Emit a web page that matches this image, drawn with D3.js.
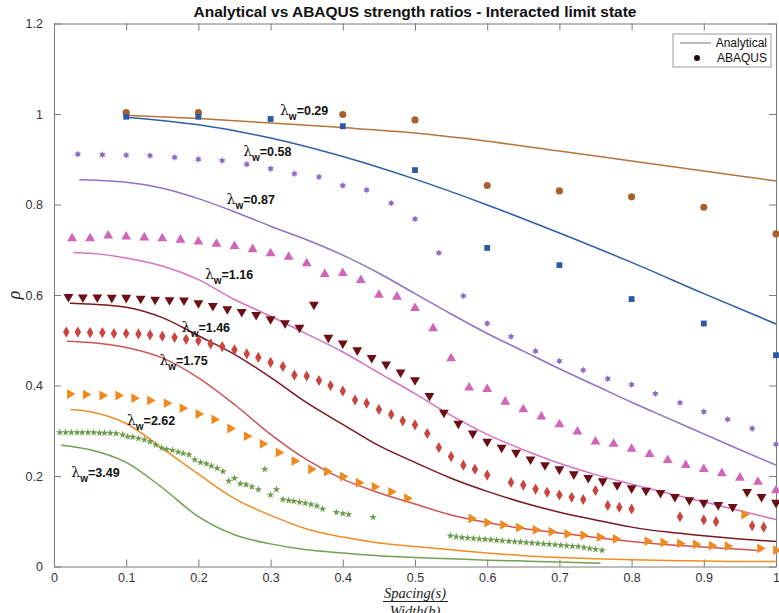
<!DOCTYPE html>
<html lang="en">
<head>
<meta charset="UTF-8">
<title>Analytical vs ABAQUS strength ratios</title>
<script src="https://d3js.org/d3.v7.min.js"></script>
<style>
  body { margin: 0; background: #fff; }
  svg { display: block; }
  .tick text { font: 12.5px "Liberation Sans", Arial, sans-serif; fill: #333; }
  .lbl { font-family: "Liberation Sans", Arial, sans-serif; fill: #111; }
</style>
</head>
<body>
<svg width="779" height="613"></svg>
<script>
// ---- data ----
const lambdas = ["0.29", "0.58", "0.87", "1.16", "1.46", "1.75", "2.62", "3.49"];
const colors = ["#A9612C", "#2B5BA6", "#8A6CC2", "#D065BA", "#6B0E16", "#C9463F", "#F08A1E", "#6C9B4C"];
const lineColors = ["#B5743E", "#2F5FA8", "#8D73C4", "#D872C2", "#7A1820", "#D05550", "#F28C24", "#71A052"];

// analytical curves
const anX029 = [0.1, 0.2, 0.3, 0.4, 0.5, 0.6, 0.7, 0.8, 0.9, 1.0];
const anY029 = [0.997, 0.990, 0.980, 0.970, 0.958, 0.940, 0.918, 0.896, 0.874, 0.852];
const anX058 = [0.1, 0.2, 0.3, 0.4, 0.5, 0.6, 0.7, 0.8, 0.9, 1.0];
const anY058 = [0.993, 0.976, 0.947, 0.906, 0.856, 0.799, 0.737, 0.672, 0.603, 0.536];
const anX087 = [0.035, 0.05, 0.1, 0.15, 0.2, 0.25, 0.3, 0.35, 0.4, 0.45, 0.5, 0.55, 0.6, 0.65, 0.7, 0.75, 0.8, 0.85, 0.9, 0.95, 1.0];
const anY087 = [0.855, 0.854, 0.849, 0.836, 0.813, 0.784, 0.752, 0.722, 0.688, 0.648, 0.603, 0.558, 0.515, 0.476, 0.437, 0.400, 0.363, 0.328, 0.293, 0.258, 0.224];
const anX116 = [0.027, 0.05, 0.1, 0.15, 0.2, 0.25, 0.3, 0.35, 0.4, 0.45, 0.5, 0.55, 0.6, 0.65, 0.7, 0.75, 0.8, 0.85, 0.9, 0.95, 1.0];
const anY116 = [0.694, 0.692, 0.682, 0.664, 0.634, 0.590, 0.553, 0.514, 0.474, 0.428, 0.382, 0.334, 0.292, 0.258, 0.228, 0.203, 0.182, 0.162, 0.143, 0.123, 0.104];
const anX146 = [0.022, 0.05, 0.1, 0.15, 0.2, 0.25, 0.3, 0.35, 0.4, 0.45, 0.5, 0.55, 0.6, 0.65, 0.7, 0.75, 0.8, 0.85, 0.9, 0.95, 1.0];
const anY146 = [0.582, 0.580, 0.573, 0.550, 0.510, 0.469, 0.418, 0.362, 0.314, 0.267, 0.230, 0.195, 0.166, 0.141, 0.120, 0.103, 0.087, 0.076, 0.068, 0.061, 0.055];
const anX175 = [0.018, 0.05, 0.1, 0.15, 0.2, 0.25, 0.3, 0.35, 0.4, 0.45, 0.5, 0.55, 0.6, 0.65, 0.7, 0.75, 0.8, 0.85, 0.9, 0.95, 0.98];
const anY175 = [0.498, 0.495, 0.484, 0.461, 0.417, 0.358, 0.292, 0.236, 0.193, 0.163, 0.138, 0.114, 0.097, 0.084, 0.074, 0.064, 0.055, 0.048, 0.043, 0.038, 0.035];
const anX262 = [0.023, 0.05, 0.1, 0.15, 0.2, 0.25, 0.3, 0.35, 0.4, 0.45, 0.5, 0.55, 0.6, 0.65, 0.7, 0.75, 0.8, 0.85, 0.9, 0.95, 1.0];
const anY262 = [0.347, 0.342, 0.316, 0.261, 0.204, 0.150, 0.113, 0.083, 0.065, 0.052, 0.044, 0.037, 0.030, 0.024, 0.020, 0.017, 0.015, 0.013, 0.012, 0.011, 0.011];
const anX349 = [0.01, 0.05, 0.1, 0.15, 0.2, 0.25, 0.3, 0.35, 0.4, 0.45, 0.5, 0.55, 0.6, 0.65, 0.7, 0.757];
const anY349 = [0.268, 0.258, 0.230, 0.174, 0.110, 0.070, 0.050, 0.037, 0.030, 0.024, 0.020, 0.017, 0.014, 0.012, 0.010, 0.007];

// ABAQUS points
const abX029 = [0.1, 0.2, 0.4, 0.5, 0.6, 0.7, 0.8, 0.9, 1.0];
const abY029 = [1.003, 1.003, 0.999, 0.987, 0.842, 0.830, 0.817, 0.794, 0.735];
const abX058 = [0.1, 0.2, 0.3, 0.4, 0.5, 0.6, 0.7, 0.8, 0.9, 1.0];
const abY058 = [0.994, 0.994, 0.989, 0.973, 0.876, 0.704, 0.666, 0.591, 0.537, 0.467];
const abX087 = [0.033, 0.067, 0.1, 0.133, 0.167, 0.2, 0.233, 0.267, 0.3, 0.333, 0.367, 0.4, 0.433, 0.467, 0.5,
  0.533, 0.567, 0.6, 0.633, 0.667, 0.7, 0.733, 0.767, 0.8, 0.833, 0.867, 0.9, 0.933, 0.967, 1.0];
const abY087 = [0.911, 0.910, 0.909, 0.908, 0.904, 0.900, 0.897, 0.889, 0.879, 0.868, 0.861, 0.842, 0.832, 0.803, 0.768,
  0.693, 0.598, 0.537, 0.508, 0.476, 0.454, 0.434, 0.415, 0.402, 0.382, 0.362, 0.342, 0.325, 0.305, 0.270];
const abX116 = [0.025, 0.05, 0.075, 0.1, 0.125, 0.15, 0.175, 0.2, 0.225, 0.25, 0.275, 0.3, 0.325, 0.35, 0.375, 0.4, 0.425, 0.45, 0.475, 0.5,
  0.525, 0.55, 0.575, 0.6, 0.625, 0.65, 0.675, 0.7, 0.725, 0.75, 0.775, 0.8, 0.825, 0.85, 0.875, 0.9, 0.925, 0.95, 0.975, 1.0];
const abY116 = [0.725, 0.725, 0.731, 0.729, 0.727, 0.725, 0.722, 0.718, 0.713, 0.708, 0.701, 0.692, 0.684, 0.670, 0.646, 0.648, 0.633, 0.600, 0.596, 0.571,
  0.526, 0.460, 0.395, 0.392, 0.364, 0.347, 0.331, 0.314, 0.298, 0.276, 0.271, 0.260, 0.248, 0.235, 0.224, 0.215, 0.206, 0.196, 0.187, 0.168];
const abX146 = [0.02, 0.04, 0.06, 0.08, 0.1, 0.12, 0.14, 0.16, 0.18, 0.2, 0.22, 0.24, 0.26, 0.28, 0.3, 0.32, 0.34, 0.36, 0.38, 0.4, 0.42, 0.44, 0.46, 0.48, 0.5,
  0.52, 0.54, 0.56, 0.58, 0.6, 0.62, 0.64, 0.66, 0.68, 0.7, 0.72, 0.74, 0.76, 0.78, 0.8, 0.82, 0.84, 0.86, 0.88, 0.9, 0.92, 0.94, 0.96, 0.98, 1.0];
const abY146 = [0.596, 0.595, 0.595, 0.594, 0.594, 0.592, 0.590, 0.589, 0.588, 0.582, 0.576, 0.569, 0.563, 0.556, 0.547, 0.538, 0.528, 0.579, 0.506, 0.493,
  0.478, 0.461, 0.447, 0.429, 0.412, 0.377, 0.340, 0.316, 0.294, 0.276, 0.263, 0.252, 0.237, 0.224, 0.215, 0.204, 0.196, 0.189, 0.180, 0.173,
  0.168, 0.163, 0.154, 0.147, 0.141, 0.136, 0.132, 0.165, 0.154, 0.141];
const abX175 = [0.017, 0.033, 0.05, 0.067, 0.083, 0.1, 0.117, 0.133, 0.15, 0.167, 0.183, 0.2, 0.217, 0.233, 0.25, 0.267, 0.283, 0.3, 0.317, 0.333,
  0.35, 0.367, 0.383, 0.4, 0.417, 0.433, 0.45, 0.467, 0.483, 0.5, 0.517, 0.533, 0.55, 0.567, 0.583, 0.6, 0.633, 0.65, 0.667, 0.683,
  0.7, 0.717, 0.733, 0.75, 0.767, 0.783, 0.8, 0.867, 0.9, 0.917, 0.967, 0.983];
const abY175 = [0.518, 0.518, 0.517, 0.517, 0.515, 0.515, 0.514, 0.512, 0.509, 0.506, 0.502, 0.499, 0.492, 0.486, 0.479, 0.470, 0.462, 0.451, 0.442, 0.423,
  0.421, 0.411, 0.400, 0.388, 0.368, 0.361, 0.347, 0.336, 0.322, 0.313, 0.294, 0.263, 0.243, 0.224, 0.215, 0.202, 0.186, 0.180, 0.171, 0.164,
  0.158, 0.153, 0.148, 0.168, 0.135, 0.131, 0.127, 0.110, 0.103, 0.099, 0.090, 0.087];
const abX262 = [0.022, 0.044, 0.067, 0.089, 0.111, 0.133, 0.156, 0.178, 0.2, 0.222, 0.244, 0.267, 0.289, 0.311, 0.333, 0.356, 0.378, 0.4, 0.422, 0.444,
  0.467, 0.489, 0.578, 0.6, 0.622, 0.644, 0.667, 0.689, 0.711, 0.733, 0.756, 0.778, 0.822, 0.844, 0.867, 0.889, 0.911, 0.933, 0.956, 0.978, 1.0];
const abY262 = [0.381, 0.380, 0.378, 0.378, 0.372, 0.367, 0.361, 0.350, 0.337, 0.325, 0.305, 0.288, 0.271, 0.252, 0.233, 0.215, 0.210, 0.199, 0.185, 0.176,
  0.165, 0.151, 0.106, 0.097, 0.092, 0.086, 0.081, 0.077, 0.072, 0.069, 0.065, 0.061, 0.056, 0.053, 0.051, 0.049, 0.046, 0.045, 0.115, 0.040, 0.036];
const abX349 = [0.008, 0.016, 0.024, 0.032, 0.039, 0.047, 0.055, 0.063, 0.070, 0.078, 0.086, 0.095, 0.102, 0.109, 0.117, 0.125, 0.133, 0.141, 0.149, 0.156,
  0.164, 0.172, 0.179, 0.187, 0.195, 0.203, 0.211, 0.218, 0.226, 0.234, 0.242, 0.250, 0.258, 0.266, 0.274, 0.283, 0.292, 0.300, 0.308, 0.317,
  0.325, 0.332, 0.340, 0.348, 0.356, 0.364, 0.372, 0.391, 0.400, 0.408, 0.442,
  0.549, 0.557, 0.565, 0.573, 0.581, 0.589, 0.597, 0.605, 0.613, 0.621, 0.630, 0.638, 0.646, 0.654, 0.662, 0.670, 0.678, 0.686, 0.694, 0.702,
  0.710, 0.718, 0.726, 0.734, 0.742, 0.750, 0.759];
const abY349 = [0.296, 0.296, 0.296, 0.296, 0.296, 0.296, 0.296, 0.295, 0.295, 0.295, 0.294, 0.291, 0.287, 0.286, 0.283, 0.280, 0.276, 0.269, 0.262, 0.259,
  0.257, 0.253, 0.250, 0.247, 0.236, 0.230, 0.227, 0.222, 0.217, 0.210, 0.189, 0.195, 0.183, 0.181, 0.176, 0.170, 0.215, 0.158, 0.170, 0.148,
  0.146, 0.144, 0.142, 0.140, 0.137, 0.134, 0.127, 0.120, 0.117, 0.115, 0.109,
  0.068, 0.066, 0.064, 0.063, 0.062, 0.061, 0.060, 0.059, 0.058, 0.057, 0.056, 0.055, 0.054, 0.053, 0.052, 0.051, 0.050, 0.049, 0.048, 0.047,
  0.046, 0.045, 0.044, 0.042, 0.040, 0.038, 0.036];

// label anchors (data units)
const labelX = [0.313, 0.262, 0.239, 0.209, 0.177, 0.146, 0.101, 0.024];
const labelY = [0.998, 0.908, 0.801, 0.635, 0.519, 0.446, 0.313, 0.198];

const xTicks = [0, 0.1, 0.2, 0.3, 0.4, 0.5, 0.6, 0.7, 0.8, 0.9, 1];
const yTicks = [0, 0.2, 0.4, 0.6, 0.8, 1, 1.2];

const analytical = [[anX029, anY029], [anX058, anY058], [anX087, anY087], [anX116, anY116],
                    [anX146, anY146], [anX175, anY175], [anX262, anY262], [anX349, anY349]];
const abaqus = [[abX029, abY029], [abX058, abY058], [abX087, abY087], [abX116, abY116],
                [abX146, abY146], [abX175, abY175], [abX262, abY262], [abX349, abY349]];

// ---- chart ----
const svg = d3.select("svg");
const x = d3.scaleLinear().domain([0, 1]).range([54, 776]);
const y = d3.scaleLinear().domain([0, 1.2]).range([566.5, 23.5]);

svg.append("rect").attr("width", 779).attr("height", 613).attr("fill", "#fff");

// six point star for the 0.87 series
const hexagram = {
  draw(ctx, size) {
    const r = Math.sqrt(size) * 0.62, ri = r * 0.55;
    for (let i = 0; i < 12; i++) {
      const a = -Math.PI / 2 + i * Math.PI / 6;
      const rr = i % 2 ? ri : r;
      if (i === 0) ctx.moveTo(rr * Math.cos(a), rr * Math.sin(a));
      else ctx.lineTo(rr * Math.cos(a), rr * Math.sin(a));
    }
    ctx.closePath();
  }
};

const markers = [
  { type: d3.symbolCircle, size: 40, rot: 0 },
  { type: d3.symbolSquare, size: 34, rot: 0 },
  { type: hexagram, size: 32, rot: 0 },
  { type: d3.symbolTriangle, size: 42, rot: 0 },
  { type: d3.symbolTriangle, size: 42, rot: 180 },
  { type: d3.symbolDiamond, size: 36, rot: 0 },
  { type: d3.symbolTriangle, size: 42, rot: 90 },
  { type: d3.symbolStar, size: 18, rot: 0 }
];

// axes (ticks inside, box on)
const fmt = d => d3.format("~g")(d);
const gx = svg.append("g").attr("transform", `translate(0,${y(0)})`)
  .call(d3.axisBottom(x).tickValues(xTicks).tickFormat(fmt).tickSizeInner(-7).tickSizeOuter(0).tickPadding(11));
const gxt = svg.append("g").attr("transform", `translate(0,${y(1.2)})`)
  .call(d3.axisTop(x).tickValues(xTicks).tickFormat("").tickSizeInner(-7).tickSizeOuter(0));
const gy = svg.append("g").attr("transform", `translate(${x(0)},0)`)
  .call(d3.axisLeft(y).tickValues(yTicks).tickFormat(fmt).tickSizeInner(-7).tickSizeOuter(0).tickPadding(11));
const gyr = svg.append("g").attr("transform", `translate(${x(1)},0)`)
  .call(d3.axisRight(y).tickValues(yTicks).tickFormat("").tickSizeInner(-7).tickSizeOuter(0));
[gx, gxt, gy, gyr].forEach(g => {
  g.selectAll(".domain").attr("stroke", "#7a7a7a");
  g.selectAll(".tick line").attr("stroke", "#7a7a7a");
});
gx.selectAll(".tick text").attr("dy", "0.35em");

// analytical lines
const line = d3.line().x(d => x(d[0])).y(d => y(d[1])).curve(d3.curveMonotoneX);
analytical.forEach((s, i) => {
  svg.append("path")
    .datum(s[0].map((v, j) => [v, s[1][j]]))
    .attr("fill", "none")
    .attr("stroke", lineColors[i])
    .attr("stroke-width", 1.5)
    .attr("d", line);
});

// ABAQUS markers
abaqus.forEach((s, i) => {
  const m = markers[i];
  const sym = d3.symbol().type(m.type).size(m.size);
  svg.append("g").selectAll("path")
    .data(s[0].map((v, j) => [v, s[1][j]]))
    .join("path")
    .attr("d", sym)
    .attr("fill", colors[i])
    .attr("transform", d => `translate(${x(d[0])},${y(d[1])}) rotate(${m.rot})`);
});

// lambda labels
lambdas.forEach((l, i) => {
  const t = svg.append("text").attr("class", "lbl")
    .attr("x", x(labelX[i])).attr("y", y(labelY[i]));
  t.append("tspan").text("λ").attr("font-size", 14).attr("font-family", "DejaVu Serif, serif");
  t.append("tspan").text("w").attr("font-size", 10).attr("font-weight", "bold").attr("dy", 5);
  t.append("tspan").text("=" + l).attr("font-size", 12.5).attr("font-weight", "bold").attr("dy", -5);
});

// title
svg.append("text")
  .attr("x", 415).attr("y", 17)
  .attr("text-anchor", "middle")
  .attr("font-family", "Liberation Sans, Arial, sans-serif")
  .attr("font-weight", "bold").attr("font-size", 15.5).attr("fill", "#111")
  .text("Analytical vs ABAQUS strength ratios - Interacted limit state");

// y label
svg.append("text")
  .attr("transform", "translate(20,295) rotate(-90)")
  .attr("text-anchor", "middle")
  .attr("font-family", "Liberation Serif, serif").attr("font-style", "italic")
  .attr("font-size", 18).attr("fill", "#222")
  .text("ρ");

// x label as a fraction
svg.append("text")
  .attr("x", 415).attr("y", 598).attr("text-anchor", "middle")
  .attr("font-family", "Liberation Serif, serif").attr("font-style", "italic")
  .attr("font-size", 14.5).attr("fill", "#222")
  .text("Spacing(s)");
svg.append("line")
  .attr("x1", 383).attr("x2", 448).attr("y1", 601.5).attr("y2", 601.5)
  .attr("stroke", "#222").attr("stroke-width", 1);
svg.append("text")
  .attr("x", 415).attr("y", 616).attr("text-anchor", "middle")
  .attr("font-family", "Liberation Serif, serif").attr("font-style", "italic")
  .attr("font-size", 14.5).attr("fill", "#222")
  .text("Width(b)");

// legend
const lg = svg.append("g").attr("transform", "translate(673,34)");
lg.append("rect").attr("width", 98).attr("height", 33)
  .attr("fill", "#fff").attr("stroke", "#9a9a9a").attr("stroke-width", 1);
lg.append("line").attr("x1", 7).attr("x2", 38).attr("y1", 9).attr("y2", 9)
  .attr("stroke", "#777").attr("stroke-width", 1);
lg.append("text").attr("x", 94).attr("y", 13).attr("text-anchor", "end")
  .attr("font-family", "Liberation Sans, Arial, sans-serif").attr("font-size", 12).attr("fill", "#111")
  .text("Analytical");
lg.append("circle").attr("cx", 24).attr("cy", 24).attr("r", 3).attr("fill", "#1a0a1e");
lg.append("text").attr("x", 94).attr("y", 28).attr("text-anchor", "end")
  .attr("font-family", "Liberation Sans, Arial, sans-serif").attr("font-size", 12).attr("fill", "#111")
  .text("ABAQUS");
</script>
</body>
</html>
